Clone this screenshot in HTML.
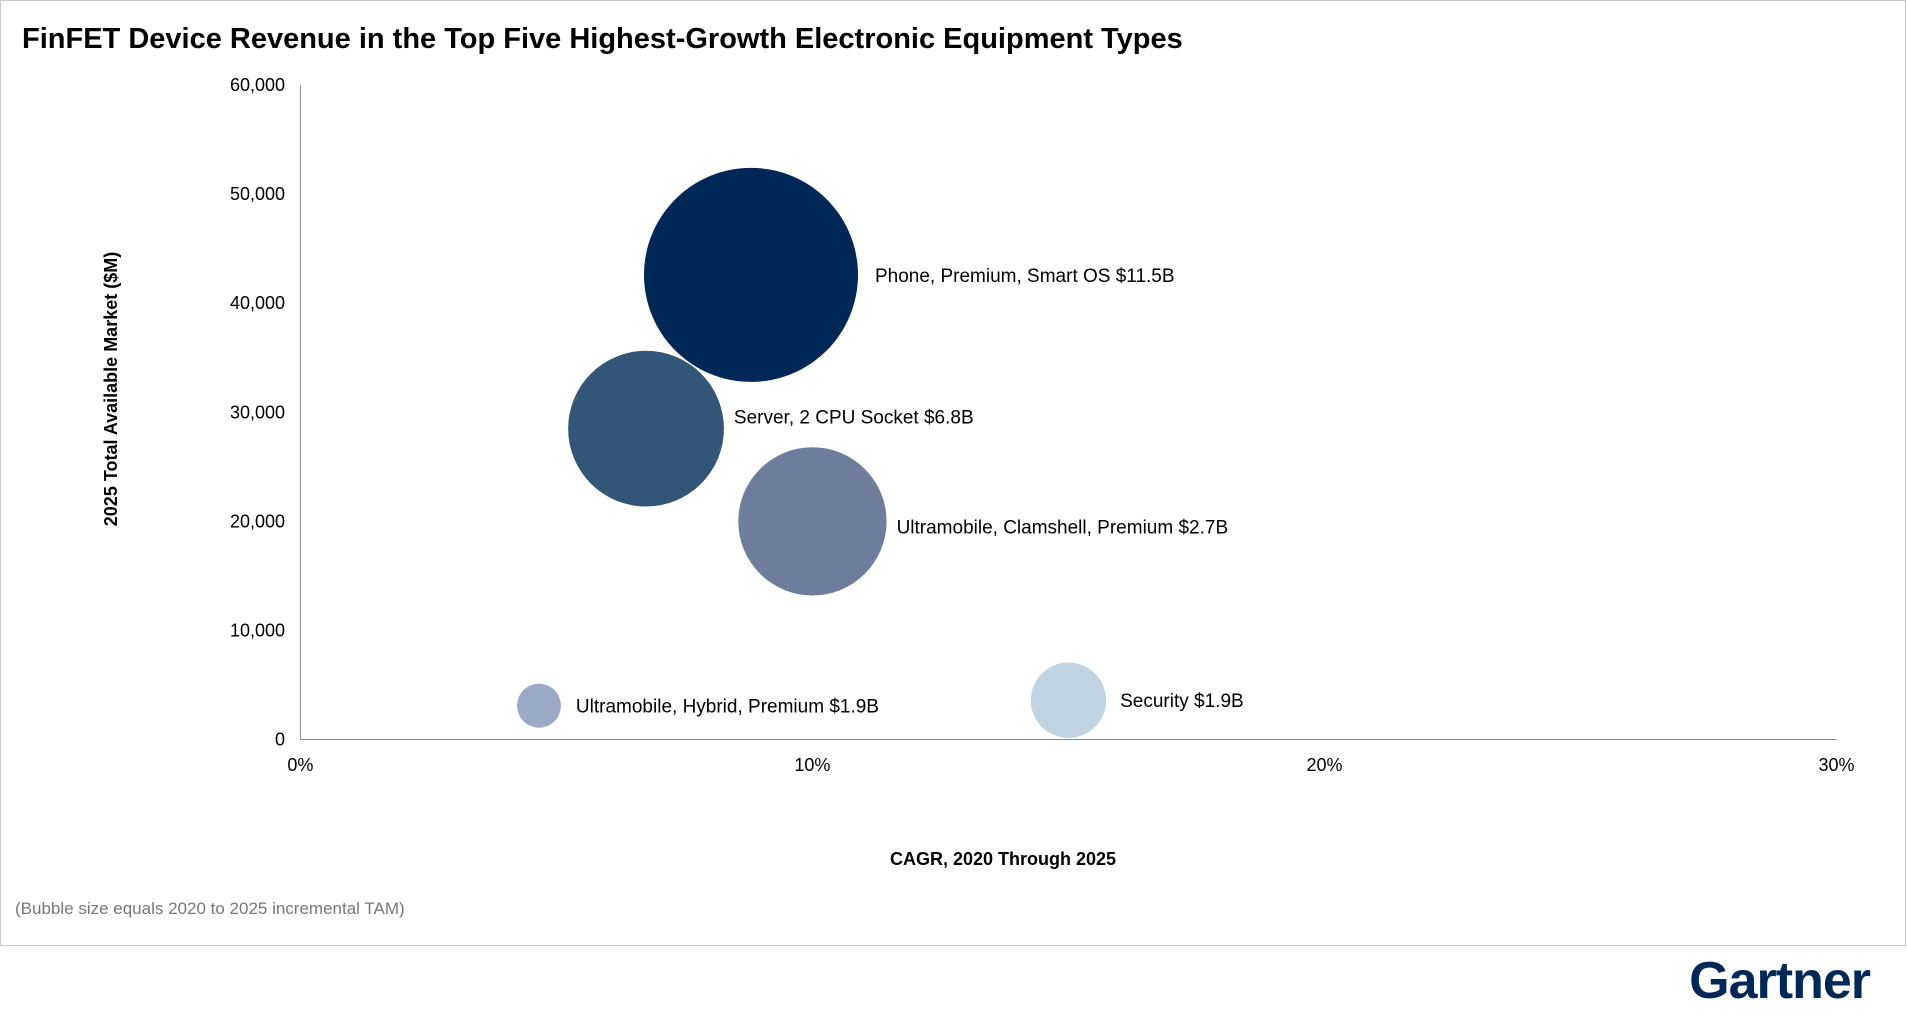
<!DOCTYPE html>
<html><head><meta charset="utf-8"><style>
html,body{margin:0;padding:0;background:#fff;}
body{width:1907px;height:1019px;overflow:hidden;font-family:"Liberation Sans",Arial,sans-serif;}
</style></head><body>
<svg width="1907" height="1019" xmlns="http://www.w3.org/2000/svg">
<rect x="0.5" y="0.5" width="1905" height="945" fill="#fff" stroke="#c8c8c8"/>
<text x="22" y="48" font-size="29" font-weight="bold" fill="#000">FinFET Device Revenue in the Top Five Highest-Growth Electronic Equipment Types</text>
<g id="axes"></g>
<g id="bubbles"></g>
<text x="112" y="389" font-size="18" font-weight="bold" text-anchor="middle" transform="rotate(-90 112 389)" dominant-baseline="middle">2025 Total Available Market ($M)</text>
<text x="1003" y="865" font-size="18" font-weight="bold" text-anchor="middle">CAGR, 2020 Through 2025</text>
<text x="15" y="914" font-size="17" fill="#777">(Bubble size equals 2020 to 2025 incremental TAM)</text>
<text x="1870" y="998" font-size="52" font-weight="bold" fill="#002856" text-anchor="end" letter-spacing="-1">Gartner</text>
</svg>
<script>
const categories=["Phone, Premium, Smart OS $11.5B","Server, 2 CPU Socket $6.8B","Ultramobile, Clamshell, Premium $2.7B","Ultramobile, Hybrid, Premium $1.9B","Security $1.9B"];
const cagr=[8.8,6.75,10.0,4.66,15.0];
const tam=[42600,28500,20000,3100,3600];
const bubbleSize=[30000,15900,14400,1260,3720];
const colors=["#002856","#335577","#6e7d9c","#9aa9c6","#c0d3e2"];
const yTicks=[0,10000,20000,30000,40000,50000,60000];
const yTickLabels=["0","10,000","20,000","30,000","40,000","50,000","60,000"];
const xTicks=[0,10,20,30];
const xTickLabels=["0%","10%","20%","30%"];
const NS="http://www.w3.org/2000/svg";
const X0=300.4,X1=1836.5,Y0=739.5,Y1=85.1;
const xs=v=>X0+(v/30)*(X1-X0);
const ys=v=>Y0-(v/60000)*(Y0-Y1);
const rs=v=>107*Math.sqrt(v/30000);
const labelDx=[17,10,10,15,14];
const labelDy=[0,-12,5,0,0];
function mk(tag,attrs,parent,txt){const e=document.createElementNS(NS,tag);for(const k in attrs)e.setAttribute(k,attrs[k]);if(txt!==undefined)e.textContent=txt;parent.appendChild(e);return e;}
const ax=document.getElementById('axes');
let l=mk('line',{x1:X0,y1:Y1,x2:X0,y2:Y0,stroke:'#888','stroke-width':1},ax);


l=mk('line',{x1:X0,y1:Y0,x2:X1,y2:Y0,stroke:'#888','stroke-width':1},ax);


yTicks.forEach((v,i)=>{const t=mk('text',{x:285,y:ys(v)+6,'font-size':18,'text-anchor':'end'},ax,yTickLabels[i]);

});
xTicks.forEach((v,i)=>{const t=mk('text',{x:xs(v),y:771,'font-size':18,'text-anchor':'middle'},ax,xTickLabels[i]);

});
const bg=document.getElementById('bubbles');
categories.forEach((c,i)=>{const cx=xs(cagr[i]),cy=ys(tam[i]),r=rs(bubbleSize[i]);
const b=mk('circle',{cx:cx,cy:cy,r:r,fill:colors[i]},bg);


const t=mk('text',{x:cx+r+labelDx[i],y:cy+7+labelDy[i],'font-size':19},bg,c);

});
</script>
</body></html>
